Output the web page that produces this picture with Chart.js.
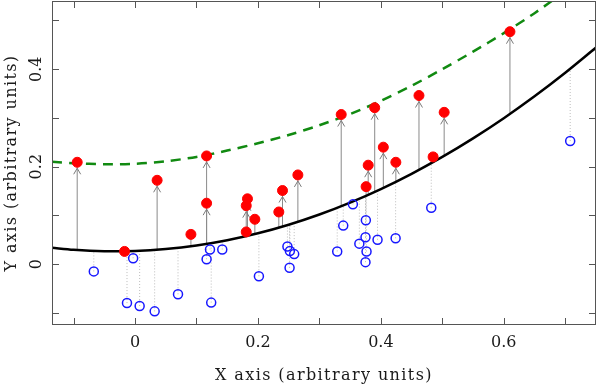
<!DOCTYPE html>
<html>
<head>
<meta charset="utf-8">
<script src="https://cdn.jsdelivr.net/npm/chart.js@4.4.1/dist/chart.umd.min.js"></script>
<style>
  html, body { margin: 0; padding: 0; background: #fff; }
</style>
</head>
<body>
<canvas id="myChart" width="598" height="386"></canvas>
<script>
/* curves */
const curveX = [-0.135, -0.1, -0.05, 0, 0.05, 0.1, 0.15, 0.2, 0.25, 0.3, 0.35, 0.4, 0.45, 0.5, 0.55, 0.6, 0.65, 0.7, 0.75];
const fitY   = [0.0334, 0.0293, 0.0265, 0.027, 0.031, 0.0383, 0.0491, 0.0633, 0.0809, 0.1019, 0.1263, 0.1541, 0.1854, 0.22, 0.2581, 0.2995, 0.3444, 0.3927, 0.4444];
const upperY = [0.210, 0.207, 0.205, 0.206, 0.211, 0.220, 0.233, 0.248, 0.265, 0.285, 0.308, 0.335, 0.366, 0.400, 0.436, 0.474, 0.515, 0.560, 0.605];

/* red filled points, and where their arrows start */
const redX    = [-0.094, -0.017, 0.036, 0.091, 0.1165, 0.1165, 0.181, 0.181, 0.183, 0.195, 0.234, 0.240, 0.265, 0.3355, 0.376, 0.3794, 0.390, 0.404, 0.4244, 0.462, 0.485, 0.503, 0.610];
const redY    = [0.209, 0.026, 0.172, 0.061, 0.125, 0.222, 0.066, 0.120, 0.134, 0.092, 0.107, 0.151, 0.183, 0.307, 0.159, 0.203, 0.321, 0.240, 0.209, 0.346, 0.220, 0.3115, 0.477];
const redFrom = [0.0288, 0.0264, 0.0295, 0.0367, 0.0415, 0.0415, 0.0574, 0.0574, 0.0578, 0.0617, 0.0748, 0.0771, 0.0868, 0.1189, 0.1403, 0.1423, 0.1483, 0.1565, 0.1689, 0.1934, 0.2092, 0.2222, 0.3083];

/* blue open points, and where their dotted lines end */
const blueX  = [-0.067, -0.003, -0.013, 0.0076, 0.032, 0.070, 0.1165, 0.122, 0.124, 0.142, 0.2016, 0.248, 0.252, 0.259, 0.2515, 0.329, 0.3388, 0.3545, 0.365, 0.375, 0.3756, 0.3767, 0.375, 0.3946, 0.424, 0.482, 0.708];
const blueY  = [-0.015, 0.012, -0.080, -0.086, -0.097, -0.062, 0.010, 0.030, -0.079, 0.030, -0.025, 0.036, 0.027, 0.0205, -0.0076, 0.026, 0.079, 0.1226, 0.042, 0.055, 0.090, 0.026, 0.004, 0.050, 0.053, 0.1157, 0.2526];
const blueTo = [0.0271, 0.0269, 0.0265, 0.0274, 0.0291, 0.0335, 0.0415, 0.0427, 0.0431, 0.0472, 0.0638, 0.0801, 0.0817, 0.0844, 0.0813, 0.1156, 0.1205, 0.1287, 0.1343, 0.1398, 0.1401, 0.1407, 0.1398, 0.151, 0.1687, 0.2071, 0.4008];

const FONT = "'DejaVu Serif', serif";
const TEXT = "#1a1a1a";

// vertical segments, broken apart by null points
function segments(xs, from, to) {
  const pts = [];
  xs.forEach((x, i) => {
    pts.push({ x: x, y: from[i] }, { x: x, y: to[i] }, { x: x, y: null });
  });
  return pts;
}

function tickLabel(v) {
  const k = Math.round(v * 10);
  return k % 2 === 0 ? String(k / 10) : "";
}

/* box round the plot, inward ticks on all sides, arrow heads */
const frame = {
  id: "frame",
  beforeDraw(chart) {
    ["x", "y"].forEach(id => {
      const s = chart.scales[id];
      if (s._spaced) return;
      const orig = s.drawTitle;
      s.drawTitle = function () {
        this.ctx.letterSpacing = "1.4px";
        orig.call(this);
        this.ctx.letterSpacing = "0px";
      };
      s._spaced = true;
    });
  },
  afterDatasetDraw(chart, args) {
    if (chart.data.datasets[args.index].label !== "arrows") return;
    const ctx = chart.ctx;
    const { x, y } = chart.scales;
    ctx.save();
    ctx.strokeStyle = "#7a7a7a";
    ctx.lineWidth = 1;
    ctx.beginPath();
    redX.forEach((rx, i) => {
      const px = x.getPixelForValue(rx);
      const top = y.getPixelForValue(redY[i]);
      const bottom = y.getPixelForValue(redFrom[i]);
      if (bottom - top < 17) return;
      const tip = top + 6;
      ctx.moveTo(px - 3.5, tip + 6);
      ctx.lineTo(px, tip);
      ctx.lineTo(px + 3.5, tip + 6);
    });
    ctx.stroke();
    ctx.restore();
  },
  afterDatasetsDraw(chart) {
    const { ctx, chartArea: a, scales } = chart;
    ctx.save();
    ctx.strokeStyle = "#555";
    ctx.lineWidth = 1;
    ctx.strokeRect(a.left + 0.5, a.top + 0.5, a.width - 1, a.height - 1);
    ctx.beginPath();
    scales.x.ticks.forEach(t => {
      const px = Math.round(scales.x.getPixelForValue(t.value)) + 0.5;
      ctx.moveTo(px, a.bottom); ctx.lineTo(px, a.bottom - 7);
      ctx.moveTo(px, a.top); ctx.lineTo(px, a.top + 7);
    });
    scales.y.ticks.forEach(t => {
      const py = Math.round(scales.y.getPixelForValue(t.value)) + 0.5;
      ctx.moveTo(a.left, py); ctx.lineTo(a.left + 7, py);
      ctx.moveTo(a.right, py); ctx.lineTo(a.right - 7, py);
    });
    ctx.stroke();
    ctx.restore();
  }
};

const ctx = document.getElementById("myChart").getContext("2d");

new Chart(ctx, {
  type: "scatter",
  data: {
    datasets: [
      {
        label: "arrows",
        data: segments(redX, redFrom, redY),
        showLine: true,
        spanGaps: false,
        borderColor: "#8a8a8a",
        borderWidth: 1,
        pointRadius: 0,
        order: 6
      },
      {
        label: "drops",
        data: segments(blueX, blueY, blueTo),
        showLine: true,
        spanGaps: false,
        borderColor: "#bcbcbc",
        borderWidth: 1,
        borderDash: [1, 2],
        pointRadius: 0,
        order: 6
      },
      {
        label: "upper",
        data: curveX.map((x, i) => ({ x: x, y: upperY[i] })),
        showLine: true,
        borderColor: "#118a11",
        borderWidth: 2.5,
        borderDash: [10, 7],
        pointRadius: 0,
        tension: 0.3,
        order: 4
      },
      {
        label: "fit",
        data: curveX.map((x, i) => ({ x: x, y: fitY[i] })),
        showLine: true,
        borderColor: "#000",
        borderWidth: 2.5,
        pointRadius: 0,
        tension: 0.3,
        order: 3
      },
      {
        label: "blue",
        data: blueX.map((x, i) => ({ x: x, y: blueY[i] })),
        pointRadius: 4.5,
        borderWidth: 1.5,
        borderColor: "#1717ff",
        backgroundColor: "rgba(0,0,0,0)",
        order: 2
      },
      {
        label: "red",
        data: redX.map((x, i) => ({ x: x, y: redY[i] })),
        pointRadius: 5,
        borderWidth: 1,
        borderColor: "#ff0000",
        backgroundColor: "#ff0000",
        order: 1
      }
    ]
  },
  options: {
    responsive: false,
    animation: false,
    devicePixelRatio: 1,
    layout: { autoPadding: false, padding: { top: 1, right: 2, left: 0, bottom: 0 } },
    plugins: { legend: { display: false }, tooltip: { enabled: false } },
    scales: {
      x: {
        type: "linear",
        min: -0.135,
        max: 0.75,
        afterFit: s => {
          s.height = 61;
          s.paddingLeft = 0;
          s.paddingRight = 0;
        },
        grid: { display: false },
        border: { display: false },
        ticks: {
          stepSize: 0.1,
          autoSkip: false,
          includeBounds: false,
          maxRotation: 0,
          padding: 0,
          color: TEXT,
          font: { family: FONT, size: 16 },
          callback: v => tickLabel(v)
        },
        title: {
          display: true,
          text: "X axis (arbitrary units)",
          color: TEXT,
          font: { family: FONT, size: 16 },
          padding: { top: 0, bottom: 1 }
        }
      },
      y: {
        type: "linear",
        min: -0.125,
        max: 0.54,
        afterFit: s => {
          s.width = 52;
          s.paddingTop = 0;
          s.paddingBottom = 0;
        },
        grid: { display: false },
        border: { display: false },
        ticks: {
          stepSize: 0.1,
          autoSkip: false,
          includeBounds: false,
          minRotation: 90,
          maxRotation: 90,
          crossAlign: "center",
          padding: -6,
          color: TEXT,
          font: { family: FONT, size: 16 },
          callback: v => tickLabel(v)
        },
        title: {
          display: true,
          text: "Y axis (arbitrary units)",
          color: TEXT,
          font: { family: FONT, size: 16 },
          padding: { top: 2, bottom: 0 }
        }
      }
    }
  },
  plugins: [frame]
});
</script>
</body>
</html>
